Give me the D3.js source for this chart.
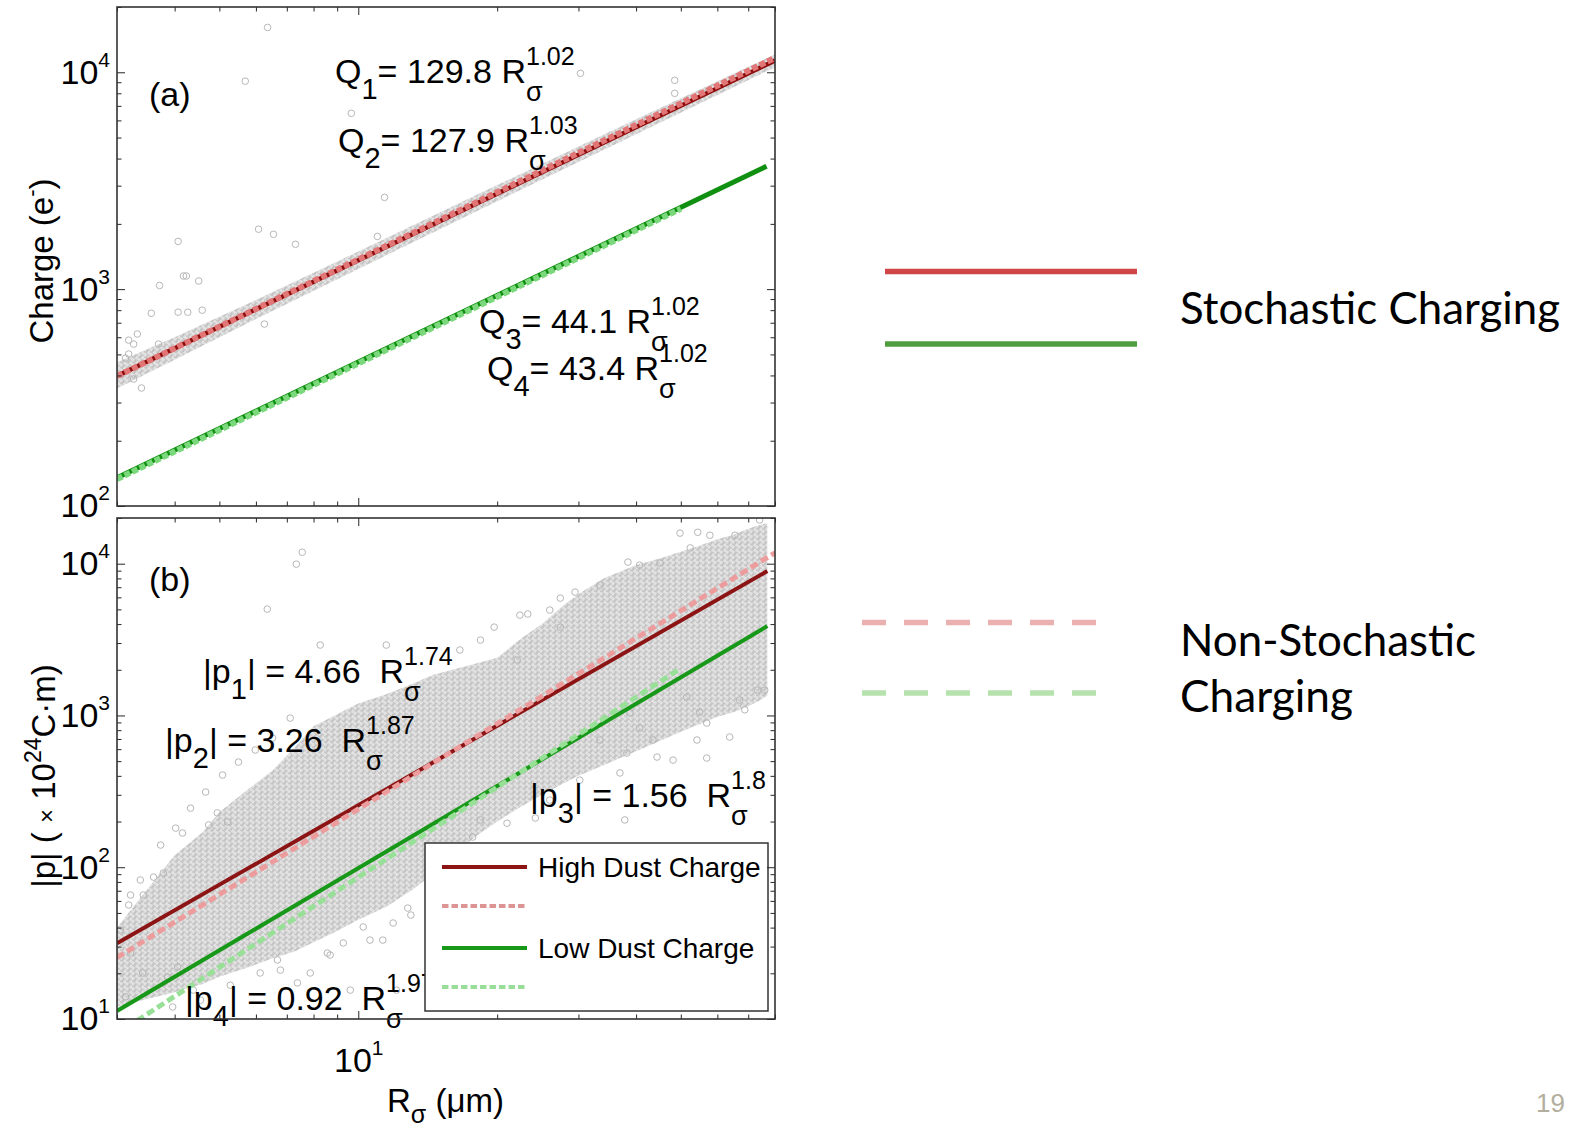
<!DOCTYPE html>
<html>
<head>
<meta charset="utf-8">
<title>Charge and dipole moment vs R sigma</title>
<script src="https://d3js.org/d3.v7.min.js"></script>
<style>
    body { margin: 0; background: #fff; }
    svg { display: block; }
    .plot text { font-family: Arial, "Liberation Sans", sans-serif; fill: #000; }
    .slide text { font-family: Lato, "Noto Sans", sans-serif; fill: #000; }
</style>
</head>
<body>
<script>
// ticks
const xMajor = [10];
const xMinor = [3, 4, 5, 6, 7, 8, 9, 20, 30, 40, 50, 60, 70, 80];
const xExp = ["1"];
const yMajorA = [100, 1000, 10000];
const yMinorA = [200, 300, 400, 500, 600, 700, 800, 900, 2000, 3000, 4000, 5000, 6000, 7000, 8000, 9000, 20000];
const yExpA = ["2", "3", "4"];
const yMajorB = [10, 100, 1000, 10000];
const yMinorB = [20, 30, 40, 50, 60, 70, 80, 90, 200, 300, 400, 500, 600, 700, 800, 900,
                 2000, 3000, 4000, 5000, 6000, 7000, 8000, 9000, 20000];
const yExpB = ["1", "2", "3", "4"];

// (a) fitted lines [R, Q]
const q1Line = [[3, 398], [80, 11320]];
const q2Line = [[3, 397], [80, 11660]];
const q3Line = [[3, 135], [76.7, 3690]];
const q4Line = [[3, 133], [50, 2348]];

// (a) scatter: dense band around the fit, plus stray points
const bandA_R  = [3, 4, 6, 10, 20, 40, 80];
const bandA_lo = [348, 472, 728, 1240, 2540, 5180, 10550];
const bandA_hi = [460, 600, 890, 1490, 3020, 6080, 12100];
const strayA = [[6.36, 16100], [5.69, 9100], [9.66, 6470], [11.4, 2650], [6.08, 1890], [6.55, 1790],
                [7.31, 1610], [4.07, 1660], [11.0, 1750], [3.71, 1040], [4.18, 1150], [4.24, 1150],
                [4.51, 1090], [3.56, 774], [4.07, 783], [4.27, 783], [4.59, 800], [6.26, 690],
                [3.32, 621], [3.18, 582], [3.26, 558], [3.18, 502], [3.13, 481], [3.39, 350],
                [3.26, 385], [3.69, 558], [30.3, 9890], [48.5, 9180], [48.5, 8000]];

// (b) fitted lines [R, |p|]
const p1Line = [[3, 31.5], [77, 8940]];
const p2Line = [[3, 25.4], [80, 11800]];
const p3Line = [[3, 11.3], [77, 3880]];
const p4Line = [[3, 8.0], [50, 2050]];

// (b) scatter: dense cloud envelope, plus stray points
const cloudB_R  = [3, 3.3, 4, 4.6, 5, 5.8, 6.5, 7.3, 8, 9, 10, 11.5, 13, 14.5, 16, 18, 20, 22.5, 25,
                   28, 30, 34, 40, 45, 50, 55, 60, 65, 70, 74, 77];
const cloudB_lo = [12, 13, 15, 17, 19, 22, 25, 28, 32, 38, 45, 55, 70, 90, 120, 160, 200, 250, 300,
                   360, 400, 470, 580, 680, 780, 880, 980, 1050, 1150, 1250, 1350];
const cloudB_hi = [40, 58, 120, 170, 230, 330, 430, 620, 850, 1020, 1200, 1380, 1600, 1850, 2000, 2200,
                   2400, 3200, 4000, 5400, 6300, 8000, 9800, 10800, 12000, 13200, 14500, 15500, 17000,
                   18000, 18500];
const strayB = [[7.56, 11900], [7.34, 9930], [6.35, 5020], [8.27, 2910], [11.5, 2910],
                [4.16, 168], [4.74, 190], [4.95, 228], [5.21, 199],
                [3.21, 65.6], [3.42, 65.6], [3.60, 86.1], [3.78, 91.6],
                [3.05, 38.6], [3.21, 27.2], [3.41, 20.1], [3.13, 14.0], [3.86, 18.9], [4.06, 22.0],
                [4.39, 15.5], [3.96, 12.0], [6.13, 20.1], [6.68, 24.5], [7.38, 17.3], [7.87, 20.1],
                [8.57, 27.2], [9.28, 31.7], [10.25, 40.4], [9.61, 15.5], [11.9, 42.9], [12.8, 53.8],
                [11.3, 33.1], [12.1, 15.5],
                [23.3, 4660], [26.0, 4950], [29.5, 6500], [27.4, 3820], [19.7, 3820], [22.1, 2320],
                [38.4, 10250], [45.1, 10100], [49.8, 15900], [54.4, 16100], [57.8, 15400], [74.1, 19400],
                [51.5, 1320], [56.9, 891], [63.8, 721], [68.8, 1090], [73.4, 1470], [54.2, 689],
                [44.4, 532], [38.2, 565], [36.9, 418], [30.2, 375], [26.0, 277], [24.2, 211],
                [21.0, 195], [18.4, 205], [17.7, 158], [37.8, 205], [56.9, 524], [48.1, 508],
                [38.8, 1040], [43.5, 689],
                [3.73, 140], [4.02, 181], [4.33, 245], [4.67, 313], [5.08, 405], [5.50, 493],
                [5.98, 592], [6.52, 710], [7.12, 961], [3.37, 82.4], [3.18, 56.4],
                [4.55, 13.3], [5.28, 16.7], [6.78, 21.0], [8.69, 26.4], [10.6, 33.1], [13.0, 48.4],
                [33.4, 689], [40.7, 826], [54.9, 1052], [67.1, 1263], [76.0, 1470],
                [33.4, 7230], [27.4, 5930], [22.4, 4580], [18.4, 3140], [16.6, 2700],
                [40.7, 9790], [52.4, 12700], [65.5, 15400]];

const legendNames = ["High Dust Charge", "", "Low Dust Charge", ""];

const W = 1577, H = 1127;
const left = 117, right = 775;
const topA = 7, bottomA = 506, topB = 518, bottomB = 1019;
const ink = "#262626";

const svg = d3.select("body").append("svg").attr("width", W).attr("height", H);
svg.append("rect").attr("width", W).attr("height", H).attr("fill", "#fff");

const x = d3.scaleLog().domain([3, 80]).range([left, right]);
const yA = d3.scaleLog().domain([100, 20000]).range([bottomA, topA]);
const yB = d3.scaleLog().domain([10, 20000]).range([bottomB, topB]);

const defs = svg.append("defs");
const pat = defs.append("pattern").attr("id", "cloud")
    .attr("patternUnits", "userSpaceOnUse").attr("width", 6).attr("height", 5.2);
pat.append("rect").attr("width", 6).attr("height", 5.2).attr("fill", "#e2e2e2");
pat.append("circle").attr("cx", 1.5).attr("cy", 1.3).attr("r", 2.4)
    .attr("fill", "none").attr("stroke", "#c0c0c0").attr("stroke-width", 1.1);
pat.append("circle").attr("cx", 4.5).attr("cy", 3.9).attr("r", 2.4)
    .attr("fill", "none").attr("stroke", "#c4c4c4").attr("stroke-width", 1.1);

function clip(id, y0, y1) {
    defs.append("clipPath").attr("id", id).append("rect")
        .attr("x", left).attr("y", y0).attr("width", right - left).attr("height", y1 - y0);
}
clip("clipA", topA, bottomA);
clip("clipB", topB, bottomB);

function zip(R, lo, hi) { return R.map((r, i) => ({R: r, lo: lo[i], hi: hi[i]})); }

// equation text: sub = index, sig = sigma subscript, sup = exponent stacked over sigma
function eq(g, px, py, parts) {
    const t = g.append("text").attr("x", px).attr("y", py).attr("font-size", 34)
        .attr("xml:space", "preserve").style("white-space", "pre");
    const offs = {sub: 16, sig: 18, sup: -18};
    const sizes = {sub: 29, sig: 27, sup: 25};
    let cur = 0, prev = null;
    parts.forEach(p => {
        const off = offs[p[1]] || 0;
        const s = t.append("tspan").attr("dy", off - cur).text(p[0]);
        if (p[1]) s.attr("font-size", sizes[p[1]]);
        if (p[1] === "sup" && prev) s.attr("dx", -prev.node().getComputedTextLength());
        cur = off;
        prev = s;
    });
    return t;
}

function drawAxes(g, y, yMajor, yMinor, yExp, top, bottom, xLabels) {
    const sides = [
        [() => d3.axisLeft(y), `translate(${left},0)`, yMajor, yMinor],
        [() => d3.axisRight(y), `translate(${right},0)`, yMajor, yMinor],
        [() => d3.axisBottom(x), `translate(0,${bottom})`, xMajor, xMinor],
        [() => d3.axisTop(x), `translate(0,${top})`, xMajor, xMinor]
    ];
    sides.forEach(([mk, tr, major, minor]) => {
        g.append("g").attr("transform", tr).attr("color", ink)
            .call(mk().tickValues(minor).tickSizeInner(-4.5).tickSizeOuter(0).tickFormat(""))
            .call(s => s.select(".domain").remove());
        g.append("g").attr("transform", tr).attr("color", ink)
            .call(mk().tickValues(major).tickSizeInner(-8).tickSizeOuter(0).tickFormat(""))
            .call(s => s.select(".domain").remove());
    });
    // y tick labels 10^n
    g.append("g").attr("transform", `translate(${left},0)`)
        .call(d3.axisLeft(y).tickValues(yMajor).tickSize(0).tickPadding(7).tickFormat(""))
        .call(s => s.select(".domain").remove())
        .call(s => s.selectAll(".tick text").each(function(d, i) {
            const t = d3.select(this).attr("font-size", 34).attr("fill", "#000");
            t.append("tspan").text("10");
            t.append("tspan").attr("font-size", 21).attr("dy", -17).text(yExp[i]);
        }));
    if (xLabels) {
        g.append("g").attr("transform", `translate(0,${bottom})`)
            .call(d3.axisBottom(x).tickValues(xMajor).tickSize(0).tickPadding(29).tickFormat(""))
            .call(s => s.select(".domain").remove())
            .call(s => s.selectAll(".tick text").each(function(d, i) {
                const t = d3.select(this).attr("font-size", 34).attr("fill", "#000");
                t.append("tspan").text("10");
                t.append("tspan").attr("font-size", 21).attr("dy", -17).text(xLabels[i]);
            }));
    }
    g.append("rect").attr("x", left).attr("y", top)
        .attr("width", right - left).attr("height", bottom - top)
        .attr("fill", "none").attr("stroke", "#333").attr("stroke-width", 1.6);
}

const plot = svg.append("g").attr("class", "plot");
const line = y => d3.line().x(d => x(d[0])).y(d => y(d[1]));

function fit(g, data, y, color, width, dash) {
    const p = g.append("path").datum(data).attr("d", line(y))
        .attr("fill", "none").attr("stroke", color).attr("stroke-width", width);
    if (dash) p.attr("stroke-dasharray", dash);
}

// ---------- panel (a) ----------
const gA = plot.append("g");
const cA = gA.append("g").attr("clip-path", "url(#clipA)");

cA.append("path").datum(zip(bandA_R, bandA_lo, bandA_hi))
    .attr("fill", "url(#cloud)")
    .attr("d", d3.area().x(d => x(d.R)).y0(d => yA(d.lo)).y1(d => yA(d.hi)));
cA.selectAll(".strayA").data(strayA).enter().append("circle")
    .attr("cx", d => x(d[0])).attr("cy", d => yA(d[1])).attr("r", 3.3)
    .attr("fill", "none").attr("stroke", "#b7b7b7").attr("stroke-width", 1);

fit(cA, q1Line, yA, "#8e0c0c", 4.5, null);
fit(cA, q2Line, yA, "#e27676", 6, "6,2.4");
fit(cA, q3Line, yA, "#109010", 5, null);
fit(cA, q4Line, yA, "#7cd87c", 6, "6,2.4");

gA.append("text").attr("x", 149).attr("y", 106).attr("font-size", 34).text("(a)");
eq(gA, 335, 83, [["Q"], ["1", "sub"], ["= 129.8 R"], ["σ", "sig"], ["1.02", "sup"]]);
eq(gA, 338, 152, [["Q"], ["2", "sub"], ["= 127.9 R"], ["σ", "sig"], ["1.03", "sup"]]);
eq(gA, 479, 333, [["Q"], ["3", "sub"], ["= 44.1 R"], ["σ", "sig"], ["1.02", "sup"]]);
eq(gA, 487, 380, [["Q"], ["4", "sub"], ["= 43.4 R"], ["σ", "sig"], ["1.02", "sup"]]);

drawAxes(gA, yA, yMajorA, yMinorA, yExpA, topA, bottomA, null);

const labA = gA.append("text").attr("transform", "translate(53,261) rotate(-90)")
    .attr("text-anchor", "middle").attr("font-size", 33);
labA.append("tspan").text("Charge (e");
labA.append("tspan").attr("font-size", 22).attr("dy", -14).text("-");
labA.append("tspan").attr("dy", 14).text(")");

// ---------- panel (b) ----------
const gB = plot.append("g");
const cB = gB.append("g").attr("clip-path", "url(#clipB)");

cB.append("path").datum(zip(cloudB_R, cloudB_lo, cloudB_hi))
    .attr("fill", "url(#cloud)")
    .attr("d", d3.area().x(d => x(d.R)).y0(d => yB(d.lo)).y1(d => yB(d.hi)));
cB.selectAll(".strayB").data(strayB).enter().append("circle")
    .attr("cx", d => x(d[0])).attr("cy", d => yB(d[1])).attr("r", 3.3)
    .attr("fill", "none").attr("stroke", "#b7b7b7").attr("stroke-width", 1);

fit(cB, p1Line, yB, "#8c1414", 4, null);
fit(cB, p3Line, yB, "#189818", 4, null);
fit(cB, p2Line, yB, "#ec9c9c", 5, "8,4");
fit(cB, p4Line, yB, "#98e098", 5, "8,4");

gB.append("text").attr("x", 149).attr("y", 591).attr("font-size", 34).text("(b)");
eq(gB, 203, 683, [["|p"], ["1", "sub"], ["| = 4.66  R"], ["σ", "sig"], ["1.74", "sup"]]);
eq(gB, 165, 752, [["|p"], ["2", "sub"], ["| = 3.26  R"], ["σ", "sig"], ["1.87", "sup"]]);
eq(gB, 530, 807, [["|p"], ["3", "sub"], ["| = 1.56  R"], ["σ", "sig"], ["1.8", "sup"]]);
eq(gB, 185, 1010, [["|p"], ["4", "sub"], ["| = 0.92  R"], ["σ", "sig"], ["1.97", "sup"]]);

// legend
const leg = gB.append("g").attr("transform", "translate(425,843)");
leg.append("rect").attr("width", 343).attr("height", 168)
    .attr("fill", "#fff").attr("stroke", "#333").attr("stroke-width", 1.5);
const legStyles = [
    {c: "#8c1414", dash: null},
    {c: "#dc9494", dash: "6.5,3"},
    {c: "#189818", dash: null},
    {c: "#98de98", dash: "6.5,3"}
];
const legRows = [24, 63, 105, 144];
legendNames.forEach((name, i) => {
    const s = leg.append("line").attr("x1", 17).attr("x2", 102)
        .attr("y1", legRows[i]).attr("y2", legRows[i])
        .attr("stroke", legStyles[i].c).attr("stroke-width", 4);
    if (legStyles[i].dash) s.attr("stroke-dasharray", legStyles[i].dash);
    if (name) leg.append("text").attr("x", 113).attr("y", legRows[i] + 10)
        .attr("font-size", 28).text(name);
});

drawAxes(gB, yB, yMajorB, yMinorB, yExpB, topB, bottomB, xExp);

const labB = gB.append("text").attr("transform", "translate(55,776) rotate(-90)")
    .attr("text-anchor", "middle").attr("font-size", 33)
    .attr("xml:space", "preserve").style("white-space", "pre");
labB.append("tspan").text("|p| ( ");
labB.append("tspan").attr("font-size", 24).text("×");
labB.append("tspan").text(" 10");
labB.append("tspan").attr("font-size", 23).attr("dy", -14).text("24");
labB.append("tspan").attr("dy", 14).text("C·m)");

const labX = plot.append("text").attr("x", 387).attr("y", 1112).attr("font-size", 33)
    .attr("xml:space", "preserve").style("white-space", "pre");
labX.append("tspan").text("R");
labX.append("tspan").attr("font-size", 25).attr("dy", 11).text("σ");
labX.append("tspan").attr("dy", -11).text(" (μm)");

// ---------- slide legend ----------
const slide = svg.append("g").attr("class", "slide");
const slideKeys = [
    {y: 271.5, x1: 885, x2: 1137, c: "#d04545", dash: null},
    {y: 344, x1: 885, x2: 1137, c: "#4f9f41", dash: null},
    {y: 622.5, x1: 862, x2: 1114, c: "#ebb1b1", dash: "24,18"},
    {y: 693, x1: 862, x2: 1114, c: "#b6e2ad", dash: "24,18"}
];
slideKeys.forEach(k => {
    const s = slide.append("line").attr("x1", k.x1).attr("x2", k.x2).attr("y1", k.y).attr("y2", k.y)
        .attr("stroke", k.c).attr("stroke-width", 5.5);
    if (k.dash) s.attr("stroke-dasharray", k.dash);
});
slide.append("text").attr("x", 1180).attr("y", 324).attr("font-size", 44)
    .attr("textLength", 380).attr("lengthAdjust", "spacingAndGlyphs").text("Stochastic Charging");
slide.append("text").attr("x", 1180).attr("y", 656).attr("font-size", 44)
    .attr("textLength", 296).attr("lengthAdjust", "spacingAndGlyphs").text("Non-Stochastic");
slide.append("text").attr("x", 1180).attr("y", 712).attr("font-size", 44)
    .attr("textLength", 173).attr("lengthAdjust", "spacingAndGlyphs").text("Charging");

svg.append("text").attr("x", 1565).attr("y", 1112).attr("text-anchor", "end")
    .attr("font-family", "Arial, 'Liberation Sans', sans-serif").attr("font-size", 26)
    .attr("fill", "#b3ae9d").text("19");
</script>
</body>
</html>
